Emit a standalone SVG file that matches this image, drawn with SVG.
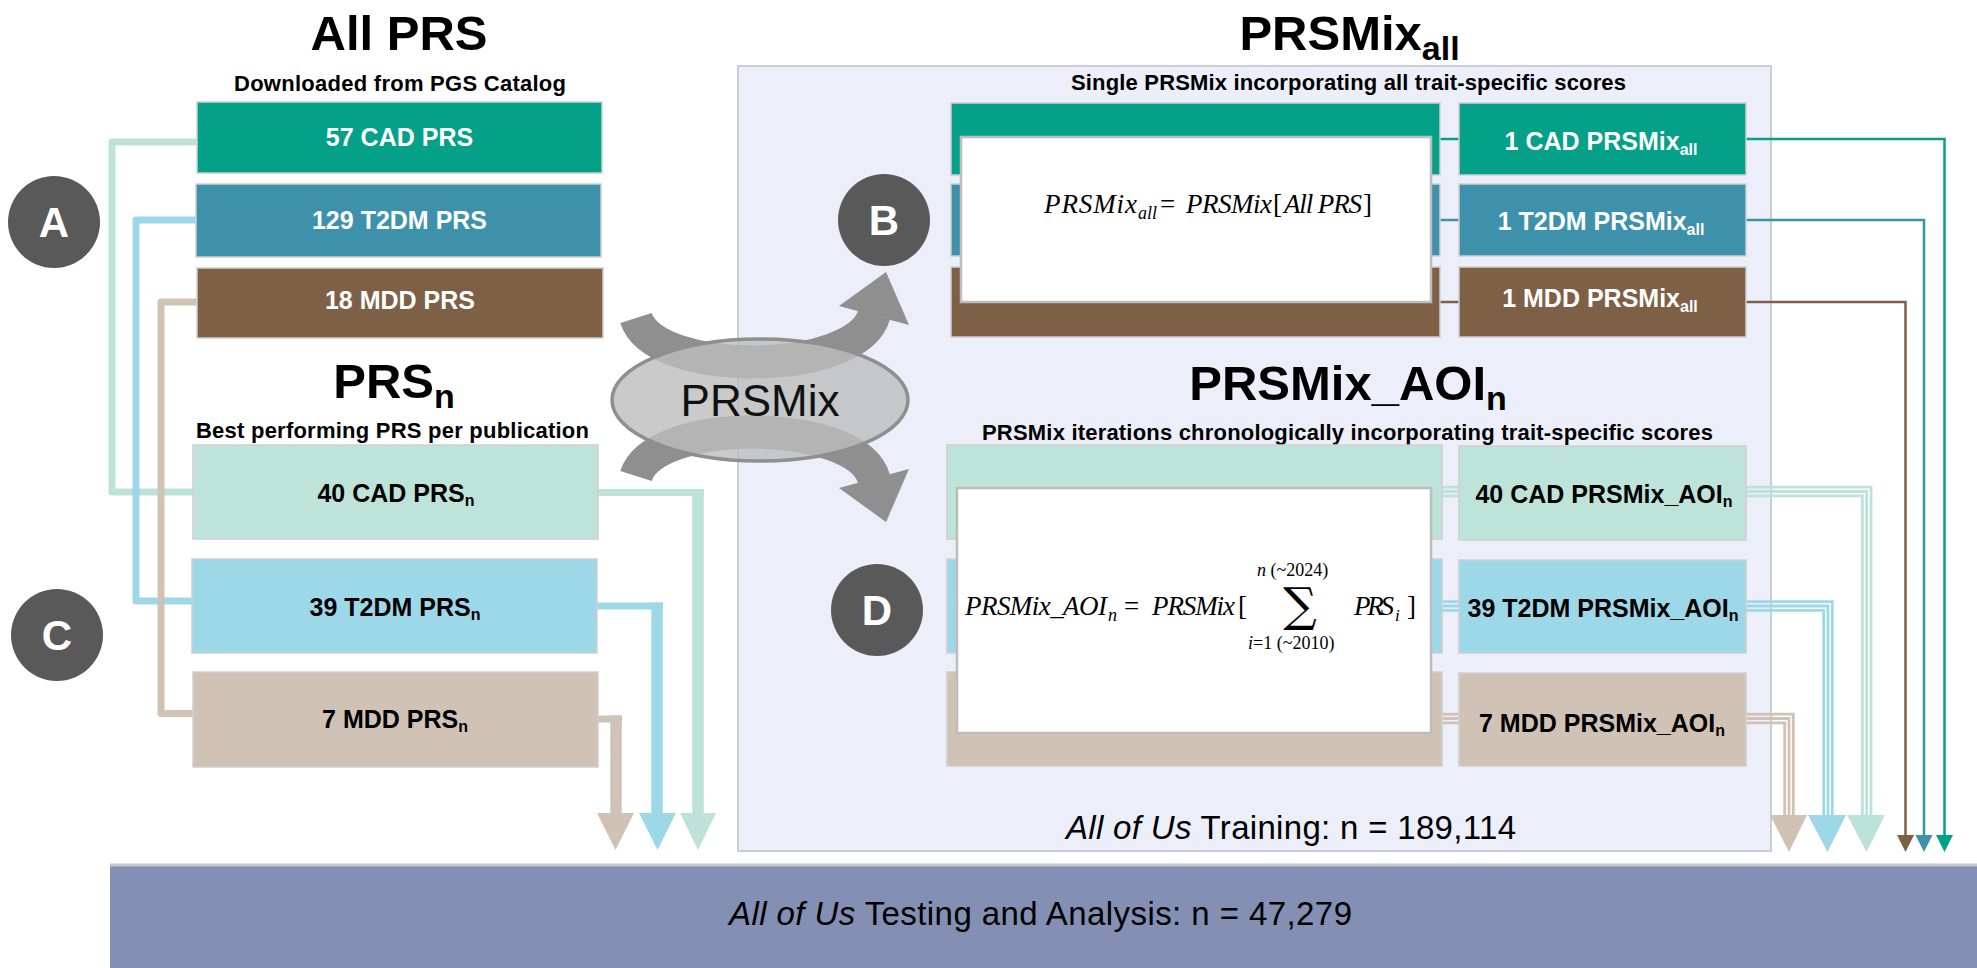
<svg xmlns="http://www.w3.org/2000/svg" width="1977" height="968" viewBox="0 0 1977 968">
<style>
.title{font-family:"Liberation Sans",Arial,sans-serif;font-weight:bold;font-size:49px;fill:#000;text-anchor:middle}
.tsub{font-size:34px}
.sub{font-family:"Liberation Sans",Arial,sans-serif;font-weight:bold;font-size:22px;fill:#000;text-anchor:middle}
.lbl{font-family:"Liberation Sans",Arial,sans-serif;font-weight:bold;font-size:25px;text-anchor:middle}
.ls{font-size:16px}
.w{fill:#fff}
.k{fill:#000}
.box{stroke:#CFCFCF;stroke-width:1.5}
.eq{font-family:"Liberation Serif","Times New Roman",serif;font-style:italic;font-size:27px;fill:#000}
.eqn{font-family:"Liberation Serif","Times New Roman",serif;font-style:normal;font-size:27px;fill:#000}
.es{font-size:18px}
.el{font-size:18px}
.sig{font-family:"DejaVu Serif","Liberation Serif",serif;font-size:47px;fill:#000;text-anchor:middle}
.circ{fill:#595959}
.cl{font-family:"Liberation Sans",Arial,sans-serif;font-weight:bold;font-size:42px;fill:#fff;text-anchor:middle}
.big{font-family:"Liberation Sans",Arial,sans-serif;font-size:33px;fill:#000}
.thin{fill:none;stroke-width:2.5}
.tri{fill:none;stroke-width:2.8}
.fat{fill:none;stroke-width:7;stroke-linejoin:round}
</style>
<rect x="0" y="0" width="1977" height="968" fill="#fff"/>

<g id="training-panel">
<rect x="738" y="66" width="1033" height="785" fill="#ECEFFA" stroke="#CACCD6" stroke-width="2"/>
<text class="big" x="1066" y="839" textLength="450"><tspan font-style="italic">All of Us</tspan> Training: n = 189,114</text>
</g>

<g id="testing-bar">
<rect x="110" y="865" width="1867" height="103" fill="#8390B3"/>
<line x1="110" y1="865" x2="1977" y2="865" stroke="#C5C8D0" stroke-width="3"/>
<text class="big" x="1040.5" y="925" text-anchor="middle" textLength="623"><tspan font-style="italic">All of Us</tspan> Testing and Analysis: n = 47,279</text>
</g>

<g id="connectors">
<path class="fat" d="M200,142 H112 V492 H196" stroke="#BDE3D9"/>
<path class="fat" d="M200,220 H136 V601 H196" stroke="#9DD8E8"/>
<path class="fat" d="M200,302 H161 V713.5 H196" stroke="#D0C3B5"/>

<path d="M596,492.5 H704" stroke="#BDE3D9" stroke-width="7" fill="none"/>
<line x1="698" y1="489" x2="698" y2="815" stroke="#BDE3D9" stroke-width="11.5"/>
<polygon points="680,813 716,813 698,850" fill="#BDE3D9"/>
<path d="M596,606 H663" stroke="#9DD8E8" stroke-width="7" fill="none"/>
<line x1="657" y1="602.5" x2="657" y2="815" stroke="#9DD8E8" stroke-width="11.5"/>
<polygon points="639,813 676,813 657.5,850" fill="#9DD8E8"/>
<path d="M596,719 H622" stroke="#D0C3B5" stroke-width="7" fill="none"/>
<line x1="616" y1="715.5" x2="616" y2="815" stroke="#D0C3B5" stroke-width="11.5"/>
<polygon points="597,813 634,813 615.5,850" fill="#D0C3B5"/>

<line class="thin" x1="1440" y1="139" x2="1459" y2="139" stroke="#04A088"/>
<line class="thin" x1="1440" y1="220" x2="1459" y2="220" stroke="#3D91AB"/>
<line class="thin" x1="1440" y1="302" x2="1459" y2="302" stroke="#7D6045"/>
<path class="thin" d="M1746,139 H1944.5 V837" stroke="#04A088"/>
<polygon points="1936,835 1953,835 1944.5,852" fill="#04A088"/>
<path class="thin" d="M1746,220 H1924 V837" stroke="#3D91AB"/>
<polygon points="1915.5,835 1932.5,835 1924,852" fill="#3D91AB"/>
<path class="thin" d="M1746,302 H1905.5 V837" stroke="#7D6045"/>
<polygon points="1897,835 1914,835 1905.5,852" fill="#7D6045"/>

<g stroke="#BDE3D9" class="tri">
<path class="tri" d="M1442,487.2 H1459 M1442,491.5 H1459 M1442,495.8 H1459"/>
<path class="tri" d="M1746,487.2 H1871 V817 M1746,491.5 H1866.7 V817 M1746,495.8 H1862.4 V817"/>
</g>
<polygon points="1847,815 1885,815 1866.5,852" fill="#BDE3D9"/>
<g stroke="#9DD8E8" class="tri">
<path class="tri" d="M1442,601.7 H1459 M1442,606 H1459 M1442,610.3 H1459"/>
<path class="tri" d="M1746,601.7 H1832.3 V817 M1746,606 H1828 V817 M1746,610.3 H1823.7 V817"/>
</g>
<polygon points="1808,815 1846,815 1827.5,852" fill="#9DD8E8"/>
<g stroke="#D0C3B5" class="tri">
<path class="tri" d="M1442,714.2 H1459 M1442,718.5 H1459 M1442,722.8 H1459"/>
<path class="tri" d="M1746,714.2 H1793.3 V817 M1746,718.5 H1789 V817 M1746,722.8 H1784.7 V817"/>
</g>
<polygon points="1770,815 1807,815 1789,852" fill="#D0C3B5"/>
</g>

<g id="title-all-prs">
<text class="title" x="399" y="50">All PRS</text>
<text class="sub" x="400" y="91" textLength="332">Downloaded from PGS Catalog</text>
</g>
<g id="cad-prs"><rect class="box" x="197" y="102" width="405" height="71" fill="#04A088"/><text class="lbl w" x="399.5" y="146">57 CAD PRS</text></g>
<g id="t2dm-prs"><rect class="box" x="196" y="184" width="405" height="73" fill="#3D91AB"/><text class="lbl w" x="399.5" y="229">129 T2DM PRS</text></g>
<g id="mdd-prs"><rect class="box" x="197" y="268" width="406" height="70" fill="#7D6045"/><text class="lbl w" x="400" y="309">18 MDD PRS</text></g>

<g id="title-prsn">
<text class="title" x="394" y="398">PRS<tspan class="tsub" dy="10">n</tspan></text>
<text class="sub" x="392.5" y="438" textLength="393">Best performing PRS per publication</text>
</g>
<g id="cad-prsn"><rect class="box" x="193" y="445" width="405" height="94" fill="#BEE3D9"/><text class="lbl k" x="396" y="502">40 CAD PRS<tspan class="ls" dy="4">n</tspan></text></g>
<g id="t2dm-prsn"><rect class="box" x="192" y="559" width="405" height="94" fill="#9DD8E8"/><text class="lbl k" x="395" y="616">39 T2DM PRS<tspan class="ls" dy="4">n</tspan></text></g>
<g id="mdd-prsn"><rect class="box" x="193" y="672" width="405" height="95" fill="#D0C3B5"/><text class="lbl k" x="395" y="728">7 MDD PRS<tspan class="ls" dy="4">n</tspan></text></g>

<g id="circle-a"><circle class="circ" cx="54" cy="222" r="46"/><text class="cl" x="54" y="237">A</text></g>
<g id="circle-c"><circle class="circ" cx="57" cy="635" r="46"/><text class="cl" x="57" y="650">C</text></g>

<g id="prsmix-mixer">
<path d="M636,318 C655,378 857,376 874,315" stroke="#8F8F8F" stroke-width="33" fill="none"/>
<polygon points="839,306 909,325 886,272" fill="#8F8F8F"/>
<g transform="matrix(1 0 0 -1 0 794)">
<path d="M636,318 C655,378 857,376 874,315" stroke="#8F8F8F" stroke-width="33" fill="none"/>
<polygon points="839,306 909,325 886,272" fill="#8F8F8F"/>
</g>
<ellipse cx="760" cy="400" rx="148" ry="61" fill="#BDBDBD" fill-opacity="0.8" stroke="#8F8F8F" stroke-width="3.5"/>
<text x="760" y="416" font-family="Liberation Sans, Arial, sans-serif" font-size="44" text-anchor="middle" fill="#111">PRSMix</text>
</g>

<g id="title-prsmix-all">
<text class="title" x="1349.5" y="50">PRSMix<tspan class="tsub" dy="10">all</tspan></text>
<text class="sub" x="1348.5" y="90" textLength="555">Single PRSMix incorporating all trait-specific scores</text>
</g>
<g id="prsmix-all-equation">
<rect x="951" y="103" width="489" height="72" fill="#04A088" class="box"/>
<rect x="951" y="184" width="489" height="72" fill="#3D91AB" class="box"/>
<rect x="951" y="267" width="489" height="70" fill="#7D6045" class="box"/>
<rect x="961" y="137" width="470" height="165" fill="#fff" stroke="#BDBDBD" stroke-width="2.5"/>
<text class="eq" x="1044" y="213" textLength="93">PRSMix</text>
<text class="eq es" x="1138" y="219">all</text>
<text class="eqn" x="1160" y="213">=</text>
<text class="eq" x="1186" y="213" textLength="86">PRSMix</text>
<text class="eqn" x="1273" y="213">[</text>
<text class="eq" x="1284" y="213" textLength="78">All PRS</text>
<text class="eqn" x="1363" y="213">]</text>
</g>
<g id="circle-b"><circle class="circ" cx="884" cy="220" r="46"/><text class="cl" x="884" y="235">B</text></g>
<g id="cad-prsmix-all"><rect class="box" x="1459" y="103" width="287" height="72" fill="#04A088"/><text class="lbl w" x="1601" y="150">1 CAD PRSMix<tspan class="ls" dy="5">all</tspan></text></g>
<g id="t2dm-prsmix-all"><rect class="box" x="1459" y="184" width="287" height="72" fill="#3D91AB"/><text class="lbl w" x="1601" y="230">1 T2DM PRSMix<tspan class="ls" dy="5">all</tspan></text></g>
<g id="mdd-prsmix-all"><rect class="box" x="1459" y="267" width="287" height="70" fill="#7D6045"/><text class="lbl w" x="1600" y="307">1 MDD PRSMix<tspan class="ls" dy="5">all</tspan></text></g>

<g id="title-prsmix-aoi">
<text class="title" x="1348" y="400">PRSMix_AOI<tspan class="tsub" dy="10">n</tspan></text>
<text class="sub" x="1347.5" y="440" textLength="731">PRSMix iterations chronologically incorporating trait-specific scores</text>
</g>
<g id="prsmix-aoi-equation">
<rect x="947" y="445" width="495" height="94" fill="#BEE3D9" class="box"/>
<rect x="947" y="559" width="495" height="94" fill="#9DD8E8" class="box"/>
<rect x="947" y="672" width="495" height="94" fill="#D0C3B5" class="box"/>
<rect x="957" y="488" width="474" height="245" fill="#fff" stroke="#BDBDBD" stroke-width="2.5"/>
<text class="eq" x="965" y="615" textLength="142">PRSMix_AOI</text>
<text class="eq el" x="1108" y="621">n</text>
<text class="eqn" x="1124" y="615">=</text>
<text class="eq" x="1152" y="615" textLength="83">PRSMix</text>
<text class="eqn" x="1238" y="615">[</text>
<text class="sig" x="1300" y="621">∑</text>
<text class="eq el" x="1257" y="576">n <tspan font-style="normal">(~2024)</tspan></text>
<text class="eq el" x="1248" y="649">i<tspan font-style="normal">=1 (~2010)</tspan></text>
<text class="eq" x="1354" y="615" textLength="40">PRS</text>
<text class="eq" x="1395" y="621" style="font-size:17px">i</text>
<text class="eqn" x="1407" y="615">]</text>
</g>
<g id="circle-d"><circle class="circ" cx="877" cy="610" r="46"/><text class="cl" x="877" y="625">D</text></g>
<g id="cad-prsmix-aoi"><rect class="box" x="1459" y="446" width="287" height="94" fill="#BEE3D9"/><text class="lbl k" x="1604" y="503">40 CAD PRSMix_AOI<tspan class="ls" dy="4">n</tspan></text></g>
<g id="t2dm-prsmix-aoi"><rect class="box" x="1459" y="560" width="287" height="93" fill="#9DD8E8"/><text class="lbl k" x="1603" y="617">39 T2DM PRSMix_AOI<tspan class="ls" dy="4">n</tspan></text></g>
<g id="mdd-prsmix-aoi"><rect class="box" x="1459" y="673" width="287" height="93" fill="#D0C3B5"/><text class="lbl k" x="1602" y="732">7 MDD PRSMix_AOI<tspan class="ls" dy="4">n</tspan></text></g>
</svg>
